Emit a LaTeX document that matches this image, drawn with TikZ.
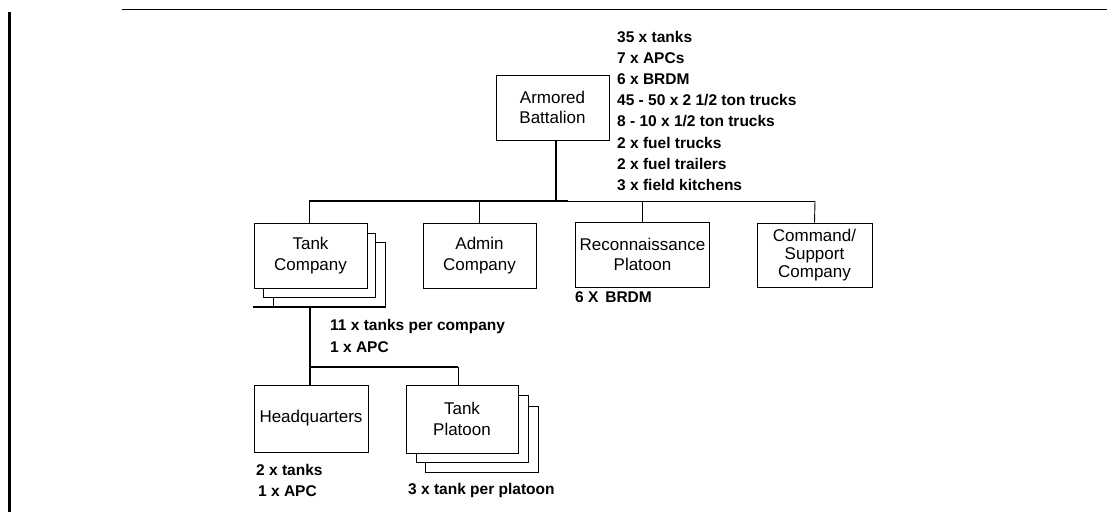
\documentclass[tikz,border=0pt]{standalone}
\usepackage{fontspec}
\setmainfont{Liberation Sans}
\begin{document}
\begin{tikzpicture}[x=1pt,y=-1pt,
  box/.style={draw, line width=0.9pt, fill=white, align=center, inner sep=0pt,
    font=\fontsize{17}{20.5}\selectfont},
  shadowbox/.style={draw, line width=0.9pt, fill=white},
  note/.style={anchor=west, inner sep=0pt, text height=11pt, text depth=0pt,
    font=\bfseries\fontsize{15.5}{18}\selectfont},
  heavy/.style={line width=2.6pt},
  medium/.style={line width=2pt},
  thin/.style={line width=0.9pt}]
\useasboundingbox (0,0) rectangle (1107,512);
% frame marks
\coordinate (tl1) at (122,9);
\coordinate (tl2) at (1107,9);
\draw[line width=1pt] (tl1) -- (tl2);
\coordinate (lb1) at (9.5,12);
\coordinate (lb2) at (9.5,512);
\draw[line width=3pt] (lb1) -- (lb2);

% battalion
\node[box, minimum width=113pt, minimum height=65pt] (bat) at (552.5,107.5) {Armored\\Battalion};
\foreach \t [count=\i from 0] in {35 x tanks, 7 x APCs, 6 x BRDM, 45 - 50 x 2 1/2 ton trucks,
  8 - 10 x 1/2 ton trucks, 2 x fuel trucks, 2 x fuel trailers, 3 x field kitchens}
  \node[note] (bl\i) at (617,36.5+21.2*\i) {\t};

% tank company stack
\draw[shadowbox] (273,242) rectangle (385,307);
\draw[shadowbox] (263,233) rectangle (375,297);
\node[box, minimum width=113pt, minimum height=65pt] (tc) at (310.5,255.5) {Tank\\Company};
\coordinate (tcl) at (253,307);
\coordinate (tcr) at (385,307);
\draw[medium] (tcl) -- (tcr);

\node[box, minimum width=113pt, minimum height=65pt] (adm) at (479.5,255.5) {Admin\\Company};
\node[box, minimum width=134pt, minimum height=65pt] (rec) at (642.5,254.5) {Reconnaissance\\Platoon};
\node[box, minimum width=115pt, minimum height=64pt, font=\fontsize{17}{18}\selectfont] (cmd) at (814.5,255) {Command/\\Support\\Company};

% top connectors
\coordinate (j1) at (556,201);
\coordinate (jl) at (309,201);
\coordinate (jm) at (568,201);
\coordinate (jr) at (815,201);
\draw[heavy] (bat.south -| j1) -- (j1);
\draw[medium] (jl) -- (jm);
\draw[thin] (jm) -- (jr);
\draw[thin] (jl) -- (jl |- tc.north);
\draw[thin] (adm.north |- jl) -- (adm.north);
\draw[thin] (rec.north |- jl) -- (rec.north);
\draw[thin] (jr) -- (cmd.north);

\node[note] (brdm) at (575,297) {6 X \,BRDM};
\node[note] (tca) at (330,325) {11 x tanks per company};
\node[note] (tcb2) at (330,347) {1 x APC};

% lower level
\node[box, minimum width=114pt, minimum height=67pt] (hq) at (311,418.5) {Headquarters};
\draw[shadowbox] (425,406) rectangle (538,472);
\draw[shadowbox] (416,395) rectangle (528,462);
\node[box, minimum width=112pt, minimum height=68pt] (tp) at (462,419) {Tank\\Platoon};

\coordinate (tcd) at (310,307);
\coordinate (j2l) at (311,367);
\coordinate (j2r) at (458,367);
\draw[heavy] (tcd) -- (tcd |- hq.north);
\draw[medium] (j2l) -- (j2r);
\draw[thin] (j2r) -- (j2r |- tp.north);

\node[note] (hqa) at (256,470) {2 x tanks};
\node[note] (hqb) at (258,491) {1 x APC};
\node[note] (tpa) at (408,489) {3 x tank per platoon};
\end{tikzpicture}
\end{document}
